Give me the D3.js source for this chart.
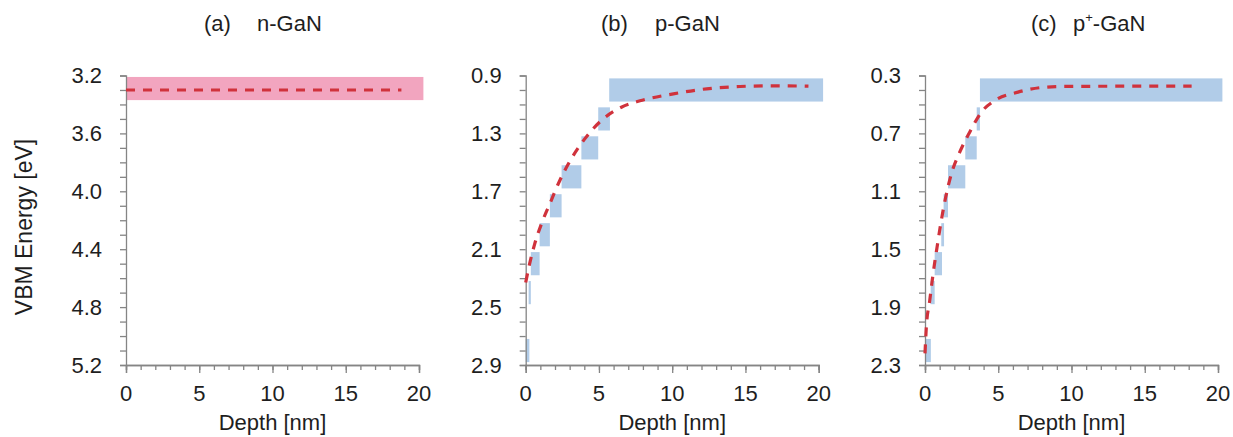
<!DOCTYPE html>
<html lang="en">
<head>
<meta charset="utf-8">
<script src="https://d3js.org/d3.v7.min.js"></script>
<style>
  body { margin: 0; background: #fff; }
  text { font-family: "Liberation Sans", Arial, sans-serif; fill: #1e1e1e; }
</style>
</head>
<body>
<script>
// ---- data ----
var depthTicks = [0, 5, 10, 15, 20];
var depthDomain = [0, 20];

var energyDomainA = [3.2, 5.2];
var energyDomainB = [0.9, 2.9];
var energyDomainC = [0.3, 2.3];

// bands: [depth from, depth to, energy top, energy bottom]
var bandsA = [[0, 20.3, 3.21, 3.37]];
var bandsB = [
  [5.7, 20.3, 0.92, 1.08],
  [4.95, 5.75, 1.12, 1.28],
  [3.8, 4.95, 1.32, 1.48],
  [2.45, 3.8, 1.52, 1.68],
  [1.65, 2.45, 1.72, 1.88],
  [0.95, 1.65, 1.92, 2.08],
  [0.35, 0.95, 2.12, 2.28],
  [0.2, 0.35, 2.32, 2.48],
  [0, 0.25, 2.72, 2.88]
];
var bandsC = [
  [3.75, 20.3, 0.32, 0.48],
  [3.53, 3.75, 0.52, 0.68],
  [2.75, 3.53, 0.72, 0.88],
  [1.57, 2.75, 0.92, 1.08],
  [1.27, 1.57, 1.12, 1.28],
  [1.11, 1.3, 1.32, 1.48],
  [0.66, 1.16, 1.52, 1.68],
  [0.39, 0.66, 1.72, 1.88],
  [0, 0.4, 2.12, 2.28]
];

// fitted VBM curves: [depth, energy]
var curveA = [[0, 3.30], [18.8, 3.30]];
var curveB = [[0, 2.33], [0.27, 2.2], [0.61, 2.065], [1.07, 1.926], [1.64, 1.788],
  [2.32, 1.627], [3.11, 1.476], [4.03, 1.338], [5.16, 1.211], [6.53, 1.119],
  [7.8, 1.075], [10.08, 1.027], [12.35, 0.992], [14.63, 0.976], [16.9, 0.971], [19.3, 0.974]];
var curveC = [[0, 2.22], [0.09, 2.04], [0.32, 1.857], [0.55, 1.672], [0.82, 1.488],
  [1.11, 1.303], [1.41, 1.142], [1.8, 0.98], [2.37, 0.83], [3.05, 0.692],
  [3.84, 0.554], [4.76, 0.473], [6.35, 0.415], [8.17, 0.381], [10, 0.375],
  [14, 0.374], [18.2, 0.374]];

var W = 1233, H = 437;
var plotW = 293, yTop = 75.5, yBot = 365;

var svg = d3.select("body").append("svg")
  .attr("width", W).attr("height", H);

var panels = [
  { left: 126, dom: energyDomainA, bands: bandsA, curve: curveA, fill: "#f2a5bf" },
  { left: 525.7, dom: energyDomainB, bands: bandsB, curve: curveB, fill: "#b1cce8" },
  { left: 925, dom: energyDomainC, bands: bandsC, curve: curveC, fill: "#b1cce8" }
];

var fs = 22;

panels.forEach(function(p) {
  var x = d3.scaleLinear().domain(depthDomain).range([p.left, p.left + plotW]);
  var y = d3.scaleLinear().domain(p.dom).range([yTop, yBot]);
  var g = svg.append("g");

  g.selectAll("rect").data(p.bands).enter().append("rect")
    .attr("x", function(d) { return x(d[0]); })
    .attr("width", function(d) { return x(d[1]) - x(d[0]); })
    .attr("y", function(d) { return y(d[2]); })
    .attr("height", function(d) { return y(d[3]) - y(d[2]); })
    .attr("fill", p.fill);

  // y axis: minor every 0.1, labels every 0.4
  var minorY = d3.range(0, 21).map(function(i) { return p.dom[0] + i * 0.1; });
  var majorY = d3.range(0, 6).map(function(i) { return p.dom[0] + i * 0.4; });
  var yAxis = d3.axisLeft(y).tickValues(minorY).tickSize(6).tickFormat("");
  g.append("g").attr("transform", "translate(" + p.left + ",0)").call(yAxis);
  g.selectAll(".ylab").data(majorY).enter().append("text")
    .attr("class", "ylab")
    .attr("x", p.left - 24).attr("y", function(d) { return y(d); })
    .attr("dy", "0.36em")
    .attr("text-anchor", "end").attr("font-size", fs)
    .text(d3.format(".1f"));

  // x axis: minor every 1 nm, labels every 5
  var xAxisMinor = d3.axisBottom(x).tickValues(d3.range(0, 21)).tickSize(5).tickFormat("");
  g.append("g").attr("transform", "translate(0," + yBot + ")").call(xAxisMinor);
  var xAxis = d3.axisBottom(x).tickValues(depthTicks).tickSize(8).tickFormat("");
  g.append("g").attr("transform", "translate(0," + yBot + ")").call(xAxis);
  g.selectAll(".xlab").data(depthTicks).enter().append("text")
    .attr("class", "xlab")
    .attr("x", function(d) { return x(d); }).attr("y", 401)
    .attr("text-anchor", "middle").attr("font-size", fs)
    .text(function(d) { return d; });

  g.append("text")
    .attr("x", p.left + plotW / 2).attr("y", 430)
    .attr("text-anchor", "middle").attr("font-size", fs)
    .text("Depth [nm]");

  var line = d3.line()
    .x(function(d) { return x(d[0]); })
    .y(function(d) { return y(d[1]); })
    .curve(d3.curveMonotoneX);
  g.append("path").datum(p.curve)
    .attr("d", line)
    .attr("fill", "none")
    .attr("stroke", "#d0323c")
    .attr("stroke-width", 3.2)
    .attr("stroke-dasharray", "9,8");
});

svg.selectAll(".domain, .tick line")
  .attr("stroke", "#858585").attr("stroke-width", 1.3);

// titles
svg.append("text").attr("x", 204).attr("y", 31).attr("font-size", fs).text("(a)");
svg.append("text").attr("x", 257).attr("y", 31).attr("font-size", fs).text("n-GaN");
svg.append("text").attr("x", 601).attr("y", 31).attr("font-size", fs).text("(b)");
svg.append("text").attr("x", 655).attr("y", 31).attr("font-size", fs).text("p-GaN");
svg.append("text").attr("x", 1031).attr("y", 31).attr("font-size", fs).text("(c)");
var tc = svg.append("text").attr("x", 1073).attr("y", 31).attr("font-size", fs);
tc.append("tspan").text("p");
tc.append("tspan").attr("font-size", 13).attr("dy", -9).text("+");
tc.append("tspan").attr("dy", 9).text("-GaN");

svg.append("text")
  .attr("transform", "translate(32,227) rotate(-90)")
  .attr("text-anchor", "middle").attr("font-size", 23)
  .text("VBM Energy [eV]");
</script>
</body>
</html>
